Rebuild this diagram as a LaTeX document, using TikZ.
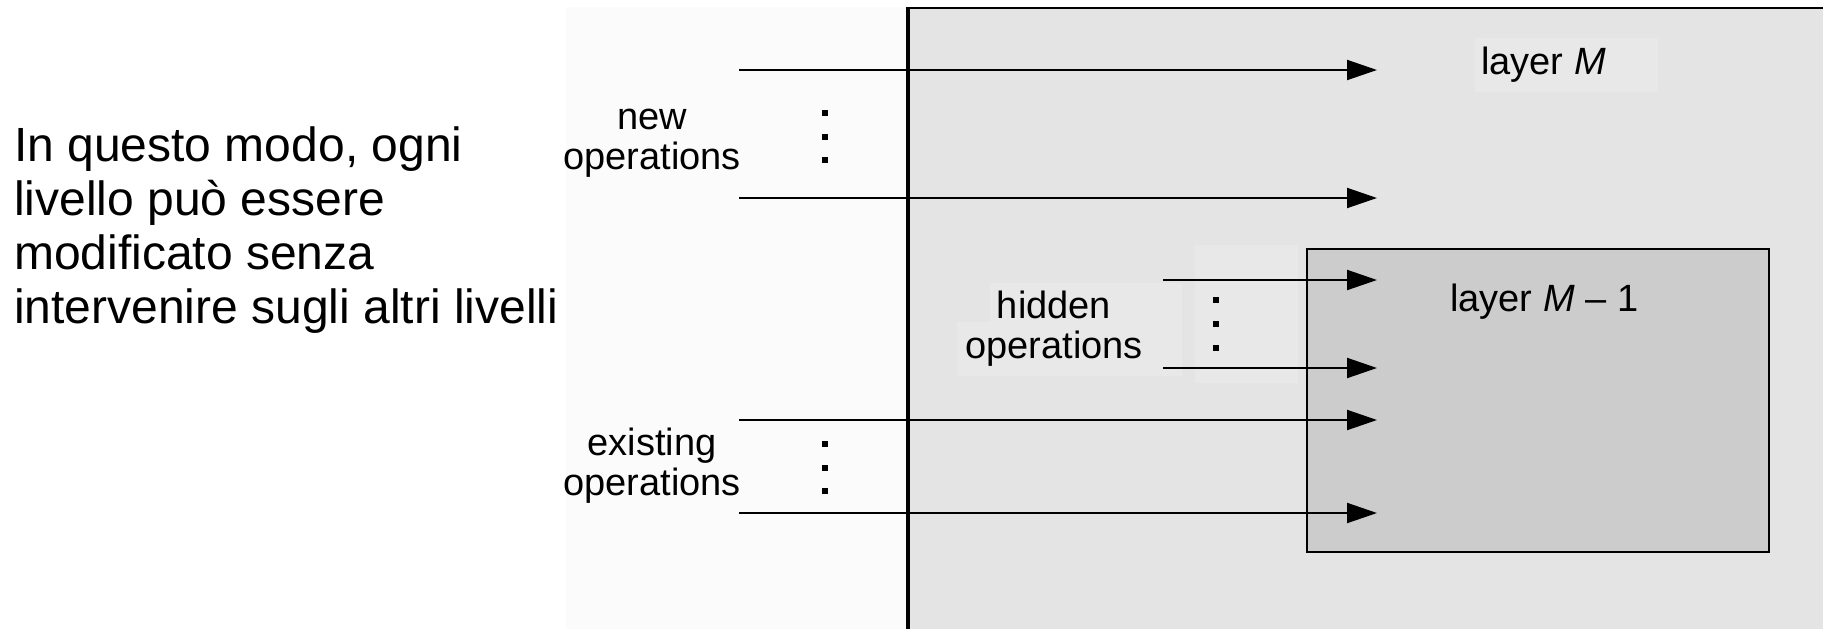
\documentclass[tikz,border=0pt]{standalone}
\usepackage{fontspec}
\setmainfont{Liberation Sans}
\usetikzlibrary{arrows.meta}
\definecolor{outerfill}{HTML}{E4E4E4}
\definecolor{innerfill}{HTML}{CCCCCC}
\definecolor{patchfill}{HTML}{E8E8E8}
\definecolor{leftfill}{HTML}{FBFBFB}
\begin{document}
\begin{tikzpicture}[x=1pt,y=-1pt,
  lbl/.style={font=\fontsize{38}{40.5}\selectfont, inner sep=0pt, anchor=base},
  layerlbl/.style={font=\fontsize{38}{38}\selectfont, inner sep=0pt, anchor=base west},
  bigtext/.style={font=\fontsize{48}{54}\selectfont, inner sep=0pt, anchor=base west},
  oparrow/.style={line width=2pt, -{Triangle[length=30pt,width=20pt]}},
  dotmark/.style={fill=black, draw=none, minimum size=6pt, inner sep=0pt},
  patch/.style={fill=patchfill, draw=none}]
\useasboundingbox (0,0) rectangle (1823,629);
\fill[white] (0,0) rectangle (1823,629);
\fill[leftfill] (566,7) rectangle (908,629);
% outer layer M
\fill[outerfill] (908,8) rectangle (1830,640);
\draw[line width=2.5pt] (1830,8) -- (906.5,8);
\draw[line width=3.5pt] (908,6.75) -- (908,640);
% faint patches
\fill[patch] (1475,38) rectangle (1658,92);
\fill[patch] (990,283) rectangle (1182,322);
\fill[patch] (957,322) rectangle (1182,376);
\fill[patch] (1195,245) rectangle (1298,383);
% inner layer M-1
\node[draw, line width=2pt, fill=innerfill, minimum width=462pt, minimum height=303pt,
      anchor=north west, inner sep=0pt] (layerMone) at (1306,248) {};
% texts
\node[bigtext] (intro) at (14,161) {\parbox[t]{700pt}{In questo modo, ogni\\livello può essere\\modificato senza\\intervenire sugli altri livelli}};
\node[lbl] (newops) at (652,129) {\parbox[t]{260pt}{\centering new\\operations}};
\node[lbl] (existops) at (652,455) {\parbox[t]{260pt}{\centering existing\\operations}};
\node[lbl] (hiddenops) at (1054,318) {\parbox[t]{260pt}{\centering hidden\\operations}};
\node[layerlbl] (layerMlbl) at (1481,74) {layer \textit{M}};
\node[layerlbl] (layerMonelbl) at (1450,311) {layer \textit{M} – 1};
% dots
\node[dotmark] (nd1) at (825,113) {};
\node[dotmark] (nd2) at (825,137) {};
\node[dotmark] (nd3) at (825,160) {};
\node[dotmark] (ed1) at (825,444) {};
\node[dotmark] (ed2) at (825,468) {};
\node[dotmark] (ed3) at (825,491) {};
\node[dotmark] (hd1) at (1216,300) {};
\node[dotmark] (hd2) at (1216,324) {};
\node[dotmark] (hd3) at (1216,348) {};
% arrow endpoints
\coordinate (ns1) at (739,70);   \coordinate (ne1) at (1377,70);
\coordinate (ns2) at (739,198);  \coordinate (ne2) at (1377,198);
\coordinate (hs1) at (1163,280); \coordinate (he1) at (1377,280);
\coordinate (hs2) at (1163,368); \coordinate (he2) at (1377,368);
\coordinate (es1) at (739,420);  \coordinate (ee1) at (1377,420);
\coordinate (es2) at (739,513);  \coordinate (ee2) at (1377,513);
\draw[oparrow] (ns1) -- (ne1);
\draw[oparrow] (ns2) -- (ne2);
\draw[oparrow] (hs1) -- (he1);
\draw[oparrow] (hs2) -- (he2);
\draw[oparrow] (es1) -- (ee1);
\draw[oparrow] (es2) -- (ee2);
\end{tikzpicture}
\end{document}
